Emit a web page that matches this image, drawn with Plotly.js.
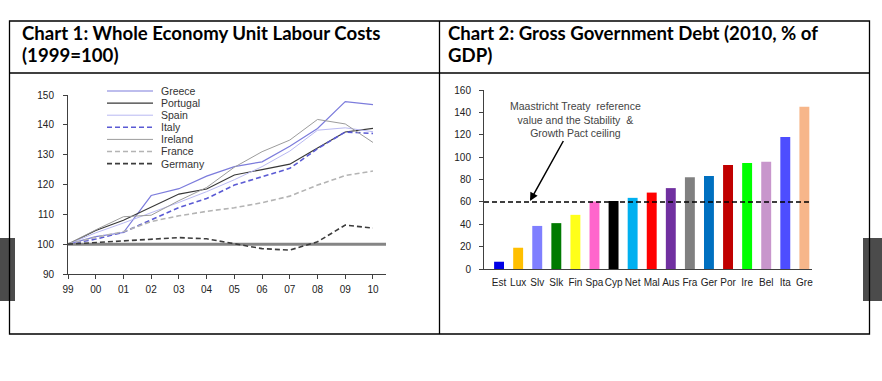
<!DOCTYPE html>
<html>
<head>
<meta charset="utf-8">
<script src="https://cdn.plot.ly/plotly-3.0.1.min.js"></script>
<style>html,body{margin:0;padding:0;background:#fff;}#chart{width:882px;height:381px;}</style>
</head>
<body>
<div id="chart"></div>
<script>
// ---------- Chart 1 data: Whole Economy Unit Labour Costs (1999=100) ----------
const years = [1999,2000,2001,2002,2003,2004,2005,2006,2007,2008,2009,2010];
const yearLabels = ['99','00','01','02','03','04','05','06','07','08','09','10'];
const greece   = [100,102.5,103.9,116.3,118.6,122.8,126.0,127.6,132.8,138.8,147.8,146.8];
const portugal = [100,104.6,108.0,112.3,116.8,118.5,123.2,125.0,126.8,132.2,137.6,138.8];
const spain    = [100,103.8,107.1,110.5,114.0,117.6,121.6,126.0,131.2,138.2,139.0,137.7];
const italy    = [100,101.7,104.0,108.2,112.3,115.3,119.8,122.6,125.4,132.0,137.6,137.1];
const ireland  = [100,104.8,109.2,109.7,114.6,119.0,125.8,131.0,134.9,141.8,140.3,134.1];
const france   = [100,102.3,104.2,107.6,109.5,111.0,112.2,113.9,116.1,119.8,123.0,124.5];
const germany  = [100,100.6,101.0,101.7,102.2,101.8,100.2,98.5,98.0,100.8,106.4,105.4];
const seriesNames = ['Greece','Portugal','Spain','Italy','Ireland','France','Germany'];
const baseLevel = 100;

// ---------- Chart 2 data: Gross Government Debt (2010, % of GDP) ----------
const countries = ['Est','Lux','Slv','Slk','Fin','Spa','Cyp','Net','Mal','Aus','Fra','Ger','Por','Ire','Bel','Ita','Gre'];
const debt = [6.5,19.0,38.5,41.0,48.4,60.3,60.8,63.6,68.3,72.3,82.0,83.2,93.0,94.8,95.8,118.0,145.0];
const ceiling = 60;

// ---------- styles ----------
const lineStyles = [
  {color:'#7c7cdc', width:1.2, dash:'solid'},
  {color:'#383838', width:1.2, dash:'solid'},
  {color:'#b9b9f2', width:1.0, dash:'solid'},
  {color:'#5a5ad4', width:1.6, dash:'5px,3px'},
  {color:'#9c9c9c', width:1.0, dash:'solid'},
  {color:'#b4b4b4', width:1.6, dash:'5px,3px'},
  {color:'#3c3c3c', width:1.6, dash:'5px,3px'}
];
const barColors = ['#0000e6','#ffbf00','#7f7fff','#007a00','#ffff1a','#ff66cc','#000000','#00b0f0','#ff0000','#7030a0','#808080','#0070c0','#c00000','#00ff00','#c896cc','#4d4dff','#f7b68a'];

const W = 882, H = 381;
const px = v => v / W;
const py = v => 1 - v / H;

const tickFont = {family:'Liberation Sans Narrow, Arial Narrow, Liberation Sans, Arial, sans-serif', size:10, color:'#222'};
const seriesData = [greece, portugal, spain, italy, ireland, france, germany];

const traces = seriesData.map((ys, i) => ({
  type:'scatter', mode:'lines', x: years, y: ys, name: seriesNames[i],
  xaxis:'x', yaxis:'y', line: lineStyles[i], showlegend:false, hoverinfo:'skip'
}));
traces.push({
  type:'bar', x: countries, y: debt, xaxis:'x2', yaxis:'y3',
  marker:{color: barColors}, width:0.52, showlegend:false, hoverinfo:'skip'
});

const axisCommon = {
  showgrid:false, zeroline:false, showline:true, linecolor:'#404040', linewidth:1,
  ticks:'outside', ticklen:4, tickcolor:'#404040', tickfont: tickFont, fixedrange:true
};

const shapes = [];
const annotations = [];

// side tabs
shapes.push({type:'rect', xref:'paper', yref:'paper', x0:0, x1:px(15), y0:py(301), y1:py(238), fillcolor:'#4b4b4b', line:{width:0}});
shapes.push({type:'rect', xref:'paper', yref:'paper', x0:px(863), x1:1, y0:py(301), y1:py(238), fillcolor:'#4b4b4b', line:{width:0}});
// table frame
shapes.push({type:'rect', xref:'paper', yref:'paper', x0:px(9.5), x1:px(869.5), y0:py(334), y1:py(21), line:{color:'#000', width:1.3}});
shapes.push({type:'line', xref:'paper', yref:'paper', x0:px(9.5), x1:px(869.5), y0:py(73), y1:py(73), line:{color:'#000', width:1.3}});
shapes.push({type:'line', xref:'paper', yref:'paper', x0:px(439.5), x1:px(439.5), y0:py(21), y1:py(334), line:{color:'#000', width:1.3}});

// base line at 100 in chart 1
shapes.push({type:'line', xref:'x domain', yref:'y', x0:0, x1:1, y0:baseLevel, y1:baseLevel, line:{color:'#858585', width:3}, layer:'below'});
// ceiling in chart 2
shapes.push({type:'line', xref:'x2 domain', yref:'y3', x0:0, x1:1, y0:ceiling, y1:ceiling, line:{color:'#000', width:1.5, dash:'5px,3px'}});

// manual legend for chart 1
seriesNames.forEach((nm, i) => {
  const yc = 91 + 12.1 * i;
  shapes.push({type:'line', xref:'paper', yref:'paper', x0:px(107), x1:px(153), y0:py(yc), y1:py(yc), line: lineStyles[i]});
  annotations.push({xref:'paper', yref:'paper', x:px(159), y:py(yc), xanchor:'left', yanchor:'middle', showarrow:false,
    text: nm, font:{family:tickFont.family, size:10.5, color:'#333'}});
});

// titles
const titleFont = {family:'Lato, Open Sans, sans-serif', size:18.6, color:'#000'};
annotations.push({xref:'paper', yref:'paper', x:px(20), y:py(32.5), xanchor:'left', yanchor:'middle', showarrow:false, text:'<b>Chart 1: Whole Economy Unit Labour Costs</b>', font:titleFont});
annotations.push({xref:'paper', yref:'paper', x:px(20), y:py(54.5), xanchor:'left', yanchor:'middle', showarrow:false, text:'<b>(1999=100)</b>', font:titleFont});
annotations.push({xref:'paper', yref:'paper', x:px(446), y:py(32.5), xanchor:'left', yanchor:'middle', showarrow:false, text:'<b>Chart 2: Gross Government Debt (2010, % of</b>', font:titleFont});
annotations.push({xref:'paper', yref:'paper', x:px(446), y:py(54.5), xanchor:'left', yanchor:'middle', showarrow:false, text:'<b>GDP)</b>', font:titleFont});

// chart 2 callout
annotations.push({xref:'paper', yref:'paper', x:px(530), y:py(201), ax:45, ay:-81,
  text:'Maastricht Treaty  reference<br>value and the Stability  &<br>Growth Pact ceiling',
  font:{family:tickFont.family, size:10.5, color:'#444'}, align:'center',
  showarrow:true, arrowhead:2, arrowsize:1.1, arrowwidth:1.5, arrowcolor:'#000', standoff:0});

const layout = {
  width:W, height:H, margin:{l:0,r:0,t:0,b:0}, paper_bgcolor:'#fff', plot_bgcolor:'rgba(0,0,0,0)',
  showlegend:false,
  xaxis: Object.assign({}, axisCommon, {domain:[px(68), px(386)], anchor:'y', range:[1999, 2010.47],
    tickmode:'array', tickvals: years, ticktext: yearLabels, ticklabelstandoff:2}),
  yaxis: Object.assign({}, axisCommon, {domain:[py(274), py(95)], anchor:'x', range:[90,150], dtick:10, tick0:90, ticklabelstandoff:7}),
  yaxis2: Object.assign({}, axisCommon, {overlaying:'y', side:'right', anchor:'x', range:[90,150], dtick:10, tick0:90, ticklabelstandoff:7}),
  xaxis2: Object.assign({}, axisCommon, {domain:[px(484), px(812)], anchor:'y3', type:'category', range:[-0.79, 16.4], ticks:'', tickangle:0, ticklabelstandoff:4,
    tickfont:{family:tickFont.family, size:10, color:'#222'}}),
  yaxis3: Object.assign({}, axisCommon, {domain:[py(269), py(90)], anchor:'x2', range:[0,160], dtick:20, tick0:0, ticklabelstandoff:6}),
  yaxis4: Object.assign({}, axisCommon, {overlaying:'y3', side:'right', anchor:'x2', range:[0,160], dtick:20, tick0:0, ticklabelstandoff:6}),
  shapes: shapes,
  annotations: annotations
};

Plotly.newPlot('chart', traces, layout, {staticPlot:true, displayModeBar:false});
</script>
</body>
</html>
